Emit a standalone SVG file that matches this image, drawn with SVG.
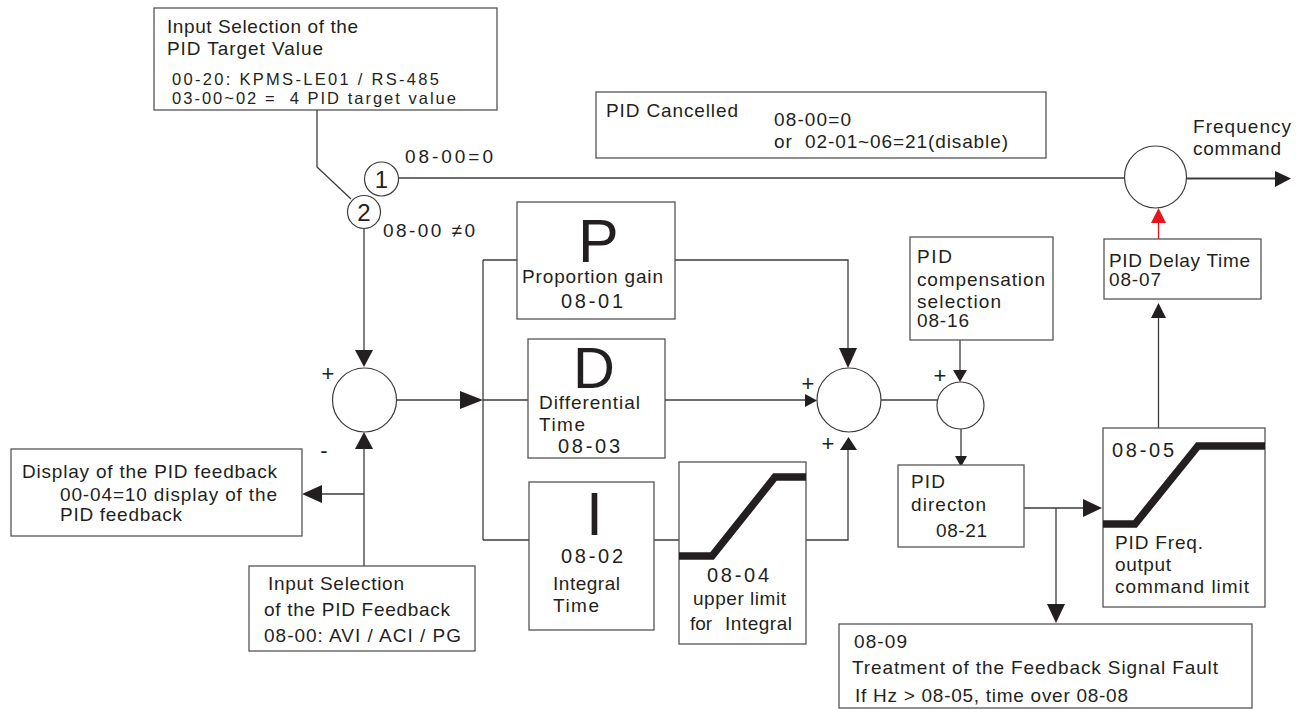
<svg xmlns="http://www.w3.org/2000/svg" width="1306" height="712" viewBox="0 0 1306 712">
<style>
text{font-family:"Liberation Sans",Arial,sans-serif;font-size:19px;fill:#231f20}
.big{font-size:60px}
.num{font-size:20px}
.sm{font-size:16.5px}
.pm{font-size:22px;text-anchor:middle}
.box{fill:#fff;stroke:#555;stroke-width:1.3}
.jc{fill:#fff;stroke:#3c3c3c;stroke-width:1.2}
.ln{fill:none;stroke:#3c3c3c;stroke-width:1.3}
.thick{fill:none;stroke:#231f20;stroke-width:7.5;stroke-linejoin:miter}
.ah{fill:#231f20}
.red{stroke:#e8141c;fill:none;stroke-width:1.3}
.redah{fill:#e8141c}
</style>
<rect width="1306" height="712" fill="#fff"/>

<g id="connectors">
  <path class="ln" d="M317 110 V167 L351 199"/>
  <path class="ln" d="M399 178 H1124.5"/>
  <path class="ln" d="M364 228 V350"/>
  <polygon class="ah" points="355,350 373,350 364,367"/>
  <path class="ln" d="M396 400 H460"/>
  <polygon class="ah" points="460,391 460,409 483,400"/>
  <path class="ln" d="M483 260 V540 M483 260 H517 M483 400 H528 M483 540 H529"/>
  <path class="ln" d="M654 540 H679 M806 540 H848 V450"/>
  <polygon class="ah" points="840,450 857,450 848.5,437"/>
  <path class="ln" d="M675 260 H848 V348"/>
  <polygon class="ah" points="839,348 857,348 848,368"/>
  <path class="ln" d="M665 400 H805"/>
  <polygon class="ah" points="805,394 805,407 817,400.5"/>
  <path class="ln" d="M881 400 H938"/>
  <path class="ln" d="M960 340 V370"/>
  <polygon class="ah" points="953,370 967,370 960,382"/>
  <path class="ln" d="M961 428 V456"/>
  <polygon class="ah" points="955,456 967,456 961,467"/>
  <path class="ln" d="M1024 508 H1083 M1056 508 V604"/>
  <polygon class="ah" points="1083,499 1083,517 1102,508"/>
  <polygon class="ah" points="1047,604 1065,604 1056,623"/>
  <path class="ln" d="M1158.5 428 V318"/>
  <polygon class="ah" points="1151,318 1166,318 1158.5,303"/>
  <path class="red" d="M1158.5 239 V223"/>
  <polygon class="redah" points="1151,223 1166,223 1158.5,208"/>
  <path class="ln" d="M1186.5 178.5 H1276" style="stroke-width:2"/>
  <polygon class="ah" points="1275,171 1275,187 1291,178.5"/>
  <path class="ln" d="M364 566 V449 M364 494 H322"/>
  <polygon class="ah" points="355,449 373,449 364,432"/>
  <polygon class="ah" points="322,485 322,503 302,494"/>
</g>

<g id="target">
  <rect class="box" x="154" y="8" width="343" height="102"/>
  <text x="167" y="33" textLength="191">Input Selection of the</text>
  <text x="167" y="55" textLength="156">PID Target Value</text>
  <text class="sm" x="172" y="85" textLength="267">00-20: KPMS-LE01 / RS-485</text>
  <text class="sm" x="172" y="104" textLength="284" xml:space="preserve">03-00~02 =  4 PID target value</text>
</g>

<g id="switch1">
  <circle class="jc" cx="381.5" cy="179" r="17"/>
  <text x="381.5" y="187.5" style="font-size:24px;text-anchor:middle">1</text>
  <text x="405" y="163" textLength="88">08-00=0</text>
</g>
<g id="switch2">
  <circle class="jc" cx="364" cy="212" r="16.5"/>
  <text x="364" y="220.5" style="font-size:24px;text-anchor:middle">2</text>
  <text x="383" y="237" textLength="92">08-00 ≠0</text>
</g>

<g id="cancelled">
  <rect class="box" x="596" y="92" width="450" height="66"/>
  <text x="606" y="117" textLength="132">PID Cancelled</text>
  <text x="774" y="126" textLength="77">08-00=0</text>
  <text x="774" y="148" textLength="234" xml:space="preserve">or  02-01~06=21(disable)</text>
</g>

<g id="sum1">
  <circle class="jc" cx="364.5" cy="400" r="32"/>
  <text class="pm" x="328" y="381">+</text>
  <text class="pm" x="324" y="458">-</text>
</g>

<g id="feedback-display">
  <rect class="box" x="11" y="449" width="291" height="87"/>
  <text x="22" y="478" textLength="255">Display of the PID feedback</text>
  <text x="60" y="501" textLength="217">00-04=10 display of the</text>
  <text x="60" y="521" textLength="122">PID feedback</text>
</g>

<g id="feedback-input">
  <rect class="box" x="249" y="566" width="226" height="85"/>
  <text x="268" y="590" textLength="136">Input Selection</text>
  <text x="264" y="616" textLength="186">of the PID Feedback</text>
  <text x="264" y="642" textLength="197">08-00: AVI / ACI / PG</text>
</g>

<g id="p-box">
  <rect class="box" x="517" y="202" width="158" height="117"/>
  <text class="big" x="578" y="262" style="font-size:61px">P</text>
  <text x="522" y="283" textLength="141">Proportion gain</text>
  <text class="num" x="561" y="308" textLength="62">08-01</text>
</g>

<g id="d-box">
  <rect class="box" x="528" y="339" width="137" height="119"/>
  <text class="big" x="573" y="388" style="font-size:58px">D</text>
  <text x="539" y="409" textLength="101">Differential</text>
  <text x="539" y="431" textLength="46">Time</text>
  <text class="num" x="558" y="453" textLength="62">08-03</text>
</g>

<g id="i-box">
  <rect class="box" x="529" y="482" width="125" height="148"/>
  <text class="big" x="586" y="535" style="font-size:61px">I</text>
  <text class="num" x="561" y="563" textLength="62">08-02</text>
  <text x="553" y="590" textLength="67">Integral</text>
  <text x="553" y="612" textLength="46">Time</text>
</g>

<g id="i-limit">
  <rect class="box" x="679" y="462" width="127" height="182"/>
  <path class="thick" d="M679 556 H712 L775 477 H806"/>
  <text class="num" x="707" y="582" textLength="62">08-04</text>
  <text x="693" y="605" textLength="93">upper limit</text>
  <text y="630"><tspan x="690">for</tspan><tspan x="725" textLength="67">Integral</tspan></text>
</g>

<g id="sum2">
  <circle class="jc" cx="849" cy="400" r="32"/>
  <text class="pm" x="808" y="391">+</text>
  <text class="pm" x="828" y="451">+</text>
</g>

<g id="compensation">
  <rect class="box" x="910" y="237" width="143" height="103"/>
  <text x="917" y="263" textLength="35">PID</text>
  <text x="917" y="286" textLength="128">compensation</text>
  <text x="917" y="308" textLength="84">selection</text>
  <text x="917" y="327" textLength="52">08-16</text>
</g>

<g id="sum3">
  <circle class="jc" cx="960.5" cy="405.5" r="23.5"/>
  <text class="pm" x="940" y="383">+</text>
</g>

<g id="direction">
  <rect class="box" x="898" y="465" width="126" height="82"/>
  <text x="911" y="488" textLength="34">PID</text>
  <text x="911" y="511" textLength="75">directon</text>
  <text x="936" y="537" textLength="51">08-21</text>
</g>

<g id="freq-limit">
  <rect class="box" x="1103" y="428" width="162" height="179"/>
  <path class="thick" d="M1103 524 H1135 L1198 446 H1265"/>
  <text class="num" x="1112" y="457" textLength="62">08-05</text>
  <text x="1115" y="549" textLength="88">PID Freq.</text>
  <text x="1115" y="571" textLength="56">output</text>
  <text x="1115" y="593" textLength="134">command limit</text>
</g>

<g id="fault">
  <rect class="box" x="839" y="624" width="413" height="84"/>
  <text x="854" y="648" textLength="53">08-09</text>
  <text x="852" y="674" textLength="366">Treatment of the Feedback Signal Fault</text>
  <text x="855" y="702" textLength="273">If Hz &gt; 08-05, time over 08-08</text>
</g>

<g id="delay">
  <rect class="box" x="1104" y="239" width="157" height="60"/>
  <text x="1109" y="267" textLength="141">PID Delay Time</text>
  <text x="1109" y="286" textLength="52">08-07</text>
</g>

<g id="output">
  <circle class="jc" cx="1155.5" cy="177" r="31"/>
  <text x="1193" y="133" textLength="98">Frequency</text>
  <text x="1193" y="155" textLength="88">command</text>
</g>
</svg>
